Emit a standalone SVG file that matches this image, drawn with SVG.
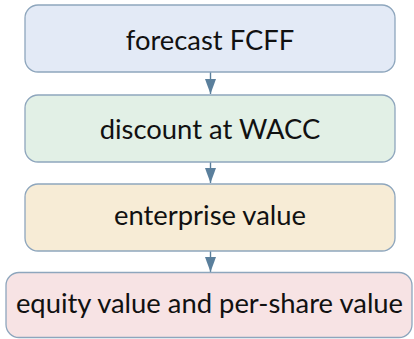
<svg xmlns="http://www.w3.org/2000/svg" width="414" height="339" viewBox="0 0 414 339">
  <style>
    .box { stroke: #8ea6bd; stroke-width: 1.3; }
    .label { font-family: Lato, "Noto Sans", sans-serif; font-size: 27.4px; fill: #111; text-anchor: middle; }
    .conn { stroke: #5a7f9c; stroke-width: 1.4; fill: none; }
  </style>
  <defs>
    <marker id="arrow" markerUnits="userSpaceOnUse" markerWidth="16" markerHeight="12" refX="15" refY="6" orient="auto">
      <path d="M0,0.5 L15,6 L0,11.5 Z" fill="#5a7f9c"/>
    </marker>
  </defs>
  <rect width="414" height="339" fill="#ffffff"/>

  <g id="connectors">
    <line class="conn" x1="210.5" y1="72" x2="210.5" y2="94" marker-end="url(#arrow)"/>
    <line class="conn" x1="210.5" y1="162" x2="210.5" y2="183" marker-end="url(#arrow)"/>
    <line class="conn" x1="210.5" y1="251" x2="210.5" y2="272" marker-end="url(#arrow)"/>
  </g>

  <g id="forecast">
    <rect class="box" x="25" y="5" width="370" height="67" rx="13" fill="#e3eaf6"/>
    <text class="label" x="210" y="50">forecast FCFF</text>
  </g>
  <g id="discount">
    <rect class="box" x="25" y="95" width="370" height="67" rx="13" fill="#e2f0e6"/>
    <text class="label" x="210" y="139">discount at WACC</text>
  </g>
  <g id="enterprise">
    <rect class="box" x="25" y="184" width="370" height="67" rx="13" fill="#f7ecd6"/>
    <text class="label" x="210" y="225">enterprise value</text>
  </g>
  <g id="equity">
    <rect class="box" x="6" y="272.5" width="406" height="65" rx="13" fill="#f7e3e4"/>
    <text class="label" x="209.5" y="313">equity value and per-share value</text>
  </g>
</svg>
